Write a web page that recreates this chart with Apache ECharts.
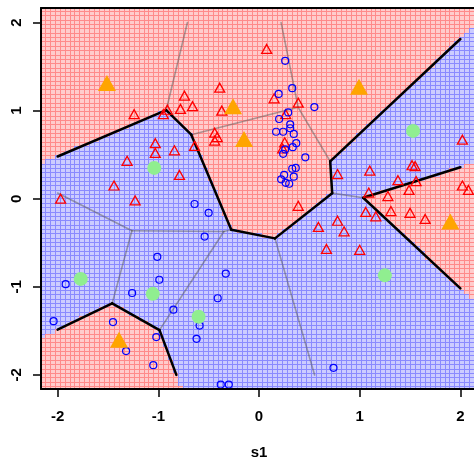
<!DOCTYPE html>
<html>
<head>
<meta charset="utf-8">
<script src="https://cdn.jsdelivr.net/npm/echarts@6/dist/echarts.min.js"></script>
<style>
    html, body { margin: 0; padding: 0; background: #fff; }
    #chart { width: 474px; height: 459px; }
</style>
</head>
<body>
<div id="chart"></div>
<script>
// 训练点（红三角 / 蓝圆圈）
const redPoints = [
    [0.076, 1.70], [0.15, 1.14], [0.39, 1.09], [0.265, 0.96], [0.255, 0.64], [0.235, 0.57],
    [-1.24, 0.96], [-0.95, 0.96], [-0.91, 1.01], [-0.74, 1.17], [-0.78, 1.02], [-0.66, 1.05],
    [-0.39, 1.26], [-0.37, 1.00], [-0.44, 0.75], [-0.415, 0.70], [-0.44, 0.66], [-1.03, 0.63],
    [-1.03, 0.52], [-0.84, 0.55], [-0.64, 0.60], [-1.31, 0.43], [-0.79, 0.27], [-1.44, 0.15],
    [-1.23, -0.02], [-1.97, 0.00], [0.78, 0.28], [1.10, 0.32], [1.38, 0.21], [1.52, 0.38],
    [1.55, 0.37], [1.56, 0.20], [1.49, 0.10], [1.28, 0.03], [1.09, 0.07], [2.02, 0.67],
    [2.02, 0.15], [2.08, 0.10], [1.31, -0.14], [1.50, -0.16], [1.65, -0.23], [1.06, -0.15],
    [1.16, -0.20], [0.78, -0.25], [0.59, -0.32], [0.845, -0.37], [0.67, -0.57], [1.00, -0.58],
    [0.39, -0.08]
];
const bluePoints = [
    [0.26, 1.565], [0.33, 1.255], [0.195, 1.19], [0.55, 1.04], [0.29, 0.98], [0.20, 0.905],
    [0.31, 0.845], [0.31, 0.80], [0.17, 0.76], [0.24, 0.76], [0.345, 0.735], [0.37, 0.63],
    [0.335, 0.585], [0.26, 0.56], [0.24, 0.51], [0.46, 0.47], [0.365, 0.35], [0.33, 0.34],
    [0.25, 0.27], [0.345, 0.25], [0.22, 0.22], [0.30, 0.17], [0.265, 0.18],
    [-0.64, -0.06], [-0.50, -0.16], [-0.54, -0.43], [-1.01, -0.66], [-0.99, -0.92],
    [-1.92, -0.97], [-1.26, -1.07], [-0.33, -0.85], [-0.41, -1.13], [-0.85, -1.26],
    [-2.04, -1.39], [-1.45, -1.40], [-0.59, -1.44], [-1.02, -1.57], [-0.62, -1.59],
    [-1.32, -1.73], [-1.05, -1.89], [-0.38, -2.11], [-0.30, -2.11], [0.74, -1.92]
];
// 原型点
const redProtos = [[-1.51, 1.315], [-0.258, 1.05], [-0.149, 0.678], [0.993, 1.27], [1.90, -0.26], [-1.39, -1.60]];
const blueProtos = [[-1.04, 0.35], [-1.77, -0.91], [-1.055, -1.08], [-0.60, -1.34], [1.53, 0.77], [1.25, -0.87]];
const tickValues = [-2, -1, 0, 1, 2];

(function () {
    let chart = echarts.init(document.querySelector("#chart"));

    const protos = redProtos.map(p => [p[0], p[1], 0]).concat(blueProtos.map(p => [p[0], p[1], 1]));

    function nearestClass(x, y) {
        let best = Infinity, cls = 0;
        protos.forEach(p => {
            let d = (x - p[0]) * (x - p[0]) + (y - p[1]) * (y - p[1]);
            if (d < best) { best = d; cls = p[2]; }
        });
        return cls;
    }

    // 背景网格
    const dx = 0.049, dy = 0.0495;
    let cells = [];
    for (let i = 0; i < 92; i++) {
        for (let j = 0; j < 90; j++) {
            let x = -2.2 + i * dx, y = -2.2 + j * dy;
            cells.push([x, y, nearestClass(x, y)]);
        }
    }

    // Voronoi 边界（裁剪到 [-2, 2]）
    let greySegs = [], blackSegs = [];
    for (let i = 0; i < protos.length; i++) {
        for (let j = i + 1; j < protos.length; j++) {
            let pi = protos[i], pj = protos[j];
            let mx = (pi[0] + pj[0]) / 2, my = (pi[1] + pj[1]) / 2;
            let ddx = -(pj[1] - pi[1]), ddy = pj[0] - pi[0];
            let t0 = -Infinity, t1 = Infinity;
            const clip = (a, b) => {
                if (Math.abs(a) < 1e-12) { if (b < 0) t0 = Infinity; return; }
                if (a > 0) t1 = Math.min(t1, b / a); else t0 = Math.max(t0, b / a);
            };
            protos.forEach((pk, k) => {
                if (k === i || k === j) return;
                let ex = pk[0] - pi[0], ey = pk[1] - pi[1];
                let c = pk[0] * pk[0] + pk[1] * pk[1] - pi[0] * pi[0] - pi[1] * pi[1];
                clip(2 * (ddx * ex + ddy * ey), c - 2 * (mx * ex + my * ey));
            });
            clip(ddx, 2 - mx); clip(-ddx, 2 + mx); clip(ddy, 2 - my); clip(-ddy, 2 + my);
            if (t0 < t1) {
                let seg = [mx + t0 * ddx, my + t0 * ddy, mx + t1 * ddx, my + t1 * ddy];
                (pi[2] === pj[2] ? greySegs : blackSegs).push(seg);
            }
        }
    }

    function segRenderer(color, width) {
        return function (params, api) {
            let a = api.coord([api.value(0), api.value(1)]);
            let b = api.coord([api.value(2), api.value(3)]);
            return {
                type: 'line',
                shape: { x1: a[0], y1: a[1], x2: b[0], y2: b[1] },
                style: { stroke: color, lineWidth: width, lineCap: 'round' }
            };
        };
    }

    const font = "Liberation Sans";
    const labelStyle = { fontSize: 15, fontWeight: 'bold', color: '#000', fontFamily: font };

    let option = {
        animation: false,
        grid: { left: 41, right: -3, top: 8, bottom: 70, containLabel: false, outerBoundsMode: 'none' },
        xAxis: [
            {
                type: 'value', min: -2.165, max: 2.165, position: 'bottom', z: 10,
                axisLine: { onZero: false, lineStyle: { color: '#000', width: 2 } },
                axisTick: { customValues: tickValues, length: 8, lineStyle: { color: '#000', width: 1.5 } },
                axisLabel: Object.assign({ customValues: tickValues, margin: 20, formatter: v => String(v) }, labelStyle),
                splitLine: { show: false },
                name: 's1', nameLocation: 'middle', nameGap: 56,
                nameTextStyle: labelStyle
            },
            {
                type: 'value', min: -2.165, max: 2.165, position: 'top', z: 10,
                axisLine: { show: true, onZero: false, lineStyle: { color: '#000', width: 2 } },
                axisTick: { show: false }, axisLabel: { show: false }, splitLine: { show: false }
            }
        ],
        yAxis: {
            type: 'value', min: -2.16, max: 2.165, z: 10,
            axisLine: { show: true, onZero: false, lineStyle: { color: '#000', width: 2 } },
            axisTick: { show: true, customValues: tickValues, length: 8, lineStyle: { color: '#000', width: 1.5 } },
            axisLabel: Object.assign({ customValues: tickValues, rotate: 90, margin: 17, formatter: v => String(v) }, labelStyle),
            splitLine: { show: false }
        },
        series: [
            {
                type: 'custom', data: cells, clip: true, progressive: 0, silent: true,
                renderItem: function (params, api) {
                    let c = api.coord([api.value(0), api.value(1)]);
                    let s = api.size([dx, dy]);
                    let red = api.value(2) === 0;
                    let x0 = Math.round(c[0] - s[0] / 2), x1 = Math.round(c[0] + s[0] / 2);
                    let y0 = Math.round(c[1] - s[1] / 2), y1 = Math.round(c[1] + s[1] / 2);
                    return {
                        type: 'group',
                        children: [
                            {
                                type: 'rect',
                                shape: { x: x0, y: y0, width: x1 - x0, height: y1 - y0 },
                                style: { fill: red ? '#FF8A8A' : '#8A8AFF' }
                            },
                            {
                                type: 'rect',
                                shape: { x: x0 + 1, y: y0 + 1, width: x1 - x0 - 1, height: y1 - y0 - 1 },
                                style: { fill: red ? '#FFCCCC' : '#CCCCFF' }
                            }
                        ]
                    };
                }
            },
            { type: 'custom', data: greySegs, clip: true, renderItem: segRenderer('rgba(90,90,90,0.5)', 1.6) },
            { type: 'custom', data: blackSegs, clip: true, renderItem: segRenderer('#000', 2.5) },
            {
                type: 'scatter', data: redPoints, symbol: 'triangle', symbolSize: [10, 9],
                itemStyle: { color: 'rgba(0,0,0,0)', borderColor: '#FF0000', borderWidth: 1.3, opacity: 1 }
            },
            {
                type: 'scatter', data: bluePoints, symbol: 'circle', symbolSize: 7,
                itemStyle: { color: 'rgba(0,0,0,0)', borderColor: '#0000FF', borderWidth: 1.2, opacity: 1 }
            },
            {
                type: 'scatter', data: redProtos, symbol: 'triangle', symbolSize: [18, 16],
                itemStyle: { color: '#FFA500', opacity: 1 }
            },
            {
                type: 'scatter', data: blueProtos, symbol: 'circle', symbolSize: 14,
                itemStyle: { color: '#90EE90', opacity: 1 }
            }
        ]
    };

    chart.setOption(option);
})();
</script>
</body>
</html>
